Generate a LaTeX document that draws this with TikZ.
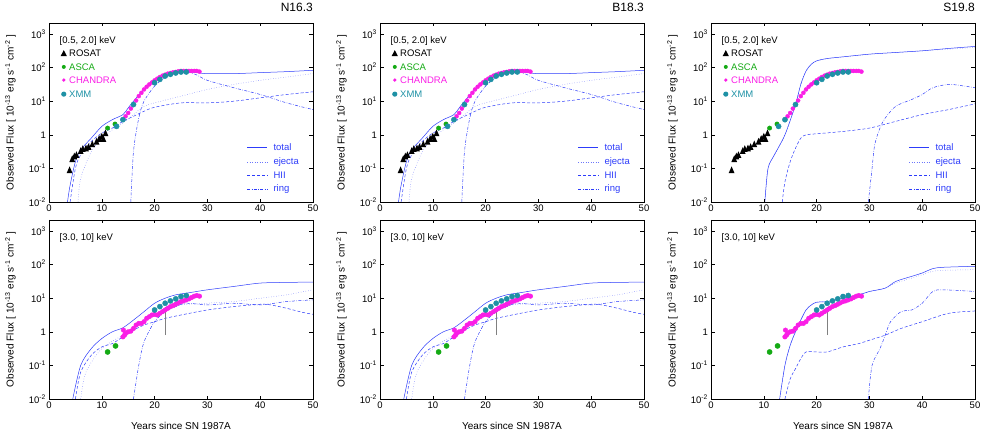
\documentclass[tikz,border=0pt]{standalone}
\usepackage{fontspec}
\setmainfont{Liberation Sans}
\usetikzlibrary{plotmarks}
\definecolor{fitblue}{RGB}{45,60,250}
\definecolor{ascagreen}{RGB}{20,170,20}
\definecolor{chmag}{RGB}{250,30,230}
\definecolor{xmmteal}{RGB}{30,145,165}

% shared data points
\newcommand{\rosatsoft}{3.9/-1.05,4.4/-0.72,4.8/-0.64,5.2/-0.6,6.0/-0.48,6.4/-0.42,7.0/-0.4,7.5/-0.36,8.2/-0.28,9/-0.2,9.5/-0.12,10/-0.05,10.3/-0.12,10.7/0.05}
\newcommand{\ascasoft}{(11.1,0.2)(12.5,0.32)}
\newcommand{\chansoft}{(14,0.45)(14.5,0.55)(15,0.65)(15.5,0.78)(16,0.9)(16.5,1.02)(17,1.15)(17.5,1.25)(18,1.35)(18.5,1.43)(19,1.5)(19.5,1.56)(20,1.62)(20.5,1.67)(21,1.72)(21.5,1.76)(22,1.79)(22.5,1.82)(23,1.84)(23.5,1.86)(24,1.87)(24.5,1.89)(25,1.9)(25.5,1.9)(26,1.9)(26.5,1.9)(27,1.9)(27.5,1.9)(28,1.9)(28.5,1.88)}
\newcommand{\xmmsoft}{(12.8,0.25)(14,0.45)(16,0.9)(20,1.55)(21,1.65)(22,1.75)(23,1.8)(24,1.84)(25,1.87)(26,1.87)}
\newcommand{\ascahard}{(11.1,-0.6)(12.6,-0.42)}
\newcommand{\chanhard}{(14,-0.15)(14.1,0.05)(14.3,-0.1)(14.5,-0.05)(15,0)(15.5,0.02)(16,0.1)(16.5,0.2)(17,0.25)(17.5,0.25)(18,0.3)(18.5,0.4)(19,0.45)(19.5,0.5)(20,0.52)(20.5,0.5)(21,0.55)(21.5,0.6)(22,0.65)(22.5,0.7)(23,0.75)(23.5,0.78)(24,0.82)(24.5,0.86)(25,0.9)(25.5,0.92)(26,0.95)(26.5,0.98)(27,1.02)(27.5,1.06)(28,1.08)(28.5,1.06)}
\newcommand{\xmmhard}{(20,0.65)(21,0.75)(22,0.85)(23,0.92)(24,0.98)(25,1.05)(26,1.08)}

\tikzset{
  total/.style  = {draw=fitblue, line width=0.5pt},
  ejecta/.style = {draw=fitblue!70, line width=0.5pt, dotted},
  hii/.style    = {draw=fitblue, line width=0.5pt, dash pattern=on 3pt off 2pt},
  ring/.style   = {draw=fitblue, line width=0.5pt, dash pattern=on 3pt off 1.5pt on 0.6pt off 1.5pt},
  lbl/.style    = {font=\fontsize{9.5}{10}\selectfont, inner sep=1pt},
  panel/.style  = {x=5.28pt, y=33.6pt}
}

% frame, ticks and tick labels of one panel
\newcommand{\axes}[1]{%
  \draw[line width=0.5pt] (0,0) rectangle (50,5.33);
  \foreach \t in {0,10,...,50}{
    \draw[line width=0.4pt] (\t,0) -- ++(0,0.1) (\t,5.33) -- ++(0,-0.1);
    \node[lbl, below=2pt] (#1x\t) at (\t,0) {\t};}
  \foreach \d/\s in {0/10\textsuperscript{-2},1/10\textsuperscript{-1},2/1,3/10\textsuperscript{1},4/10\textsuperscript{2},5/10\textsuperscript{3}}{
    \draw[line width=0.4pt] (0,\d) -- ++(0.7,0) (50,\d) -- ++(-0.7,0);
    \node[lbl, left=2pt] (#1y\d) at (0,\d) {\s};}
  \node[lbl, rotate=90, font=\fontsize{10}{11}\selectfont] (#1lab) at (-7.3,2.66)
    {Observed Flux [ 10\textsuperscript{-13} erg s\textsuperscript{-1} cm\textsuperscript{-2} ]};
}
\newcommand{\softdata}[1]{%
  \node[lbl, anchor=west] (#1band) at (1.8,2.79) {[0.5, 2.0] keV};
  \fill (2.8,2.43) ++(0,0.09) -- ++(0.6,-0.18) -- ++(-1.2,0) -- cycle;
  \node[lbl, anchor=west] (#1ros) at (3.6,2.43) {ROSAT};
  \node[lbl, anchor=west, text=ascagreen] (#1asc) at (3.6,2.02) {ASCA};
  \node[lbl, anchor=west, text=chmag] (#1cha) at (3.6,1.63) {CHANDRA};
  \node[lbl, anchor=west, text=xmmteal] (#1xmm) at (3.6,1.21) {XMM};
  \fill[ascagreen] (2.8,2.02) circle (2pt);
  \fill[chmag] (2.8,1.63) circle (1.8pt);
  \fill[xmmteal] (2.8,1.21) circle (2.6pt);
  \foreach \a/\b in \rosatsoft { \fill (\a,\b) ++(0,0.11) -- ++(0.55,-0.2) -- ++(-1.1,0) -- cycle; }
  \draw[ascagreen] plot[only marks, mark=*, mark size=2.2pt] coordinates {\ascasoft};
  \draw[chmag] plot[only marks, mark=*, mark size=2pt] coordinates {\chansoft};
  \draw[xmmteal] plot[only marks, mark=*, mark size=2.6pt] coordinates {\xmmsoft};
}
\newcommand{\harddata}[1]{%
  \node[lbl, anchor=west] (#1band) at (1.8,2.79) {[3.0, 10] keV};
  \draw[gray, line width=0.4pt] (22,-0.1) -- (22,0.75);
  \draw[ascagreen] plot[only marks, mark=*, mark size=2.6pt] coordinates {\ascahard};
  \draw[chmag] plot[only marks, mark=*, mark size=2.3pt] coordinates {\chanhard};
  \draw[xmmteal] plot[only marks, mark=*, mark size=2.6pt] coordinates {\xmmhard};
}
\newcommand{\fitkey}[1]{%
  \draw[total]  (37.5,1.64) -- (41.3,1.64); \node[lbl, anchor=west, text=fitblue] (#1k1) at (42.3,1.64) {total};
  \draw[ejecta] (37.5,1.19) -- (41.3,1.19); \node[lbl, anchor=west, text=fitblue] (#1k2) at (42.3,1.19) {ejecta};
  \draw[hii]    (37.5,0.80) -- (41.3,0.80); \node[lbl, anchor=west, text=fitblue] (#1k3) at (42.3,0.80) {HII};
  \draw[ring]   (37.5,0.39) -- (41.3,0.39); \node[lbl, anchor=west, text=fitblue] (#1k4) at (42.3,0.39) {ring};
}

\begin{document}
\begin{tikzpicture}[x=1pt, y=-1pt]
\useasboundingbox (0,0) rectangle (981,438);

% ---- N16.3 and B18.3 (two left columns)
\foreach \cx/\nm/\id in {49/N16.3/a, 380/B18.3/b}{
  \begin{scope}[shift={(\cx,202)}, panel]
    \begin{scope}
      \clip (0,0) rectangle (50,5.33);
      \draw[total]  plot[smooth] coordinates {(3.5,0)(4,0.5)(5,1.2)(6,1.55)(8,1.9)(10,2.25)(12,2.45)(14,2.6)(15,2.8)(16,3)(18,3.35)(20,3.6)(22,3.78)(24,3.88)(26,3.9)(28,3.85)(30,3.82)(35,3.82)(40,3.85)(45,3.88)(50,3.92)};
      \draw[ejecta] plot[smooth] coordinates {(5.5,0)(6,0.7)(8,1.5)(10,1.9)(12,2.15)(14,2.35)(16,2.6)(18,2.85)(20,2.95)(25,3.15)(30,3.35)(35,3.5)(40,3.62)(45,3.72)(50,3.82)};
      \draw[hii]    plot[smooth] coordinates {(4,0)(5,1)(6,1.4)(8,1.8)(10,2.05)(12,2.2)(14,2.4)(16,2.55)(18,2.7)(20,2.82)(25,2.95)(30,2.95)(35,3)(40,3.1)(45,3.2)(50,3.28)};
      \draw[ring]   plot[smooth] coordinates {(15.5,0)(16,1.5)(17,2.5)(18,3)(20,3.45)(22,3.7)(24,3.85)(26,3.88)(28,3.78)(30,3.62)(35,3.4)(40,3.2)(45,2.95)(50,2.75)};
    \end{scope}
    \axes{\id s}
    \begin{scope}[yshift=67.2pt]\softdata{\id s}\end{scope}
    \fitkey{\id s}
    \node[anchor=east, font=\fontsize{12}{13}\selectfont, inner sep=0pt] (\id title) at (50,5.78) {\nm};
  \end{scope}
  \begin{scope}[shift={(\cx,399)}, panel]
    \begin{scope}
      \clip (0,0) rectangle (50,5.33);
      \draw[total]  plot[smooth] coordinates {(4.5,0)(6,1)(8,1.5)(10,1.8)(12,2)(14,2.12)(16,2.35)(18,2.6)(20,2.85)(22,3)(24,3.1)(26,3.15)(28,3.2)(30,3.25)(35,3.35)(40,3.45)(45,3.47)(50,3.48)};
      \draw[ejecta] plot[smooth] coordinates {(6,0)(7,0.8)(10,1.5)(14,1.9)(16,2.1)(18,2.3)(20,2.5)(22,2.65)(25,2.8)(30,2.85)(35,2.9)(40,3)(45,3.1)(50,3.25)};
      \draw[hii]    plot[smooth] coordinates {(5,0)(6,0.8)(8,1.3)(10,1.55)(12,1.65)(14,1.85)(16,2.05)(18,2.2)(20,2.3)(22,2.4)(25,2.5)(30,2.65)(35,2.75)(40,2.82)(42,2.8)(45,2.7)(48,2.58)(50,2.52)};
      \draw[ring]   plot[smooth] coordinates {(16,0)(17,1)(18,1.7)(20,2.3)(22,2.6)(24,2.75)(26,2.85)(30,2.8)(35,2.85)(40,2.8)(45,2.9)(50,2.95)};
    \end{scope}
    \axes{\id h}
    \begin{scope}[yshift=67.2pt]\harddata{\id h}\end{scope}
    \node[lbl, font=\fontsize{10}{11}\selectfont] (\id xt) at (25,-0.8) {Years since SN 1987A};
  \end{scope}
}

% ---- S19.8 (right column)
\begin{scope}[shift={(711,202)}, panel]
  \begin{scope}
    \clip (0,0) rectangle (50,5.33);
    \draw[ejecta] plot[smooth] coordinates {(10.2,0)(10.8,1)(12,1.4)(14,2)(16,2.9)(17,3.5)(18,3.9)(19,4.1)(20,4.2)(22,4.27)(25,4.32)(30,4.4)(35,4.45)(40,4.5)(45,4.55)(50,4.6)};
    \draw[total]  plot[smooth] coordinates {(10.2,0)(10.8,1)(12,1.4)(14,2)(16,2.9)(17,3.5)(18,3.9)(19,4.1)(20,4.2)(22,4.27)(25,4.32)(30,4.4)(35,4.45)(40,4.5)(45,4.57)(50,4.63)};
    \draw[hii]    plot[smooth] coordinates {(13.5,0)(14,0.6)(15,1.2)(16,1.6)(17,1.9)(18,2)(20,2.03)(25,2.1)(30,2.2)(35,2.4)(40,2.6)(45,2.75)(50,2.92)};
    \draw[ring]   plot[smooth] coordinates {(29.8,0)(30.5,1)(31,1.7)(32,2.2)(33,2.5)(35,2.85)(38,3.05)(40,3.2)(42,3.4)(45,3.5)(48,3.45)(50,3.4)};
  \end{scope}
  \axes{cs}
  \begin{scope}[yshift=67.2pt]\softdata{cs}\end{scope}
  \fitkey{cs}
  \node[anchor=east, font=\fontsize{12}{13}\selectfont, inner sep=0pt] (ctitle) at (50,5.78) {S19.8};
\end{scope}
\begin{scope}[shift={(711,399)}, panel]
  \begin{scope}
    \clip (0,0) rectangle (50,5.33);
    \draw[ejecta] plot[smooth] coordinates {(13,0)(14,1)(15,1.6)(16,2)(17,2.35)(18,2.65)(19,2.8)(20,2.88)(22,2.9)(25,3)(28,3.1)(30,3.2)(33,3.3)(35,3.45)(38,3.6)(40,3.7)(42,3.8)(44,3.83)(50,3.85)};
    \draw[total]  plot[smooth] coordinates {(13,0)(14,1)(15,1.6)(16,2)(17,2.35)(18,2.65)(19,2.8)(20,2.88)(22,2.9)(25,3)(28,3.1)(30,3.2)(33,3.3)(35,3.5)(38,3.65)(40,3.75)(42,3.88)(44,3.92)(50,3.95)};
    \draw[hii]    plot[smooth] coordinates {(14,0)(15,0.6)(16,0.9)(17,1.2)(18,1.4)(20,1.4)(22,1.4)(25,1.55)(28,1.65)(30,1.75)(33,1.9)(36,2.1)(40,2.3)(45,2.55)(50,2.62)};
    \draw[ring]   plot[smooth] coordinates {(29.8,0)(30.5,1)(32,1.5)(33,1.9)(34,2.3)(36,2.6)(38,2.65)(40,2.85)(42,3.2)(44,3.25)(50,3.2)};
  \end{scope}
  \axes{ch}
  \begin{scope}[yshift=67.2pt]\harddata{ch}\end{scope}
  \node[lbl, font=\fontsize{10}{11}\selectfont] (cxt) at (25,-0.8) {Years since SN 1987A};
\end{scope}
\end{tikzpicture}
\end{document}
